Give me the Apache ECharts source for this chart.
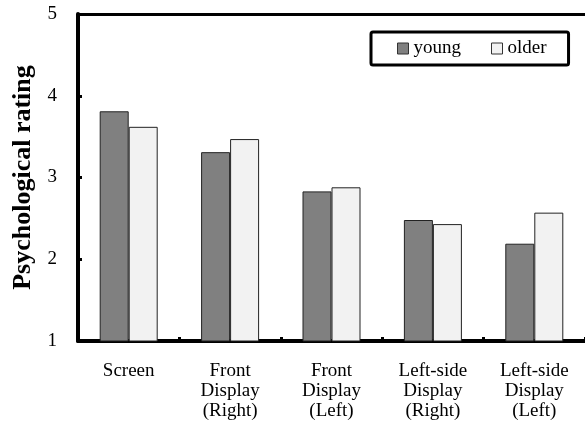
<!DOCTYPE html>
<html>
<head>
<meta charset="utf-8">
<script src="https://cdn.jsdelivr.net/npm/echarts@6/dist/echarts.min.js"></script>
<style>html,body{margin:0;padding:0;background:#fff;}#c{width:585px;height:428px;}</style>
</head>
<body>
<div id="c"></div>
<script>
const categories = ['Screen', 'Front\nDisplay\n(Right)', 'Front\nDisplay\n(Left)', 'Left-side\nDisplay\n(Right)', 'Left-side\nDisplay\n(Left)'];
const young = [3.81, 3.31, 2.83, 2.48, 2.19];
const older = [3.62, 3.47, 2.88, 2.43, 2.57];
const yTicks = [1, 2, 3, 4, 5];

const font = 'Liberation Serif, Times New Roman, serif';
const chart = echarts.init(document.getElementById('c'));
chart.setOption({
  animation: false,
  backgroundColor: '#fff',
  textStyle: { fontFamily: font },
  grid: { left: 78, top: 14, width: 508, height: 327, show: false },
  legend: {
    left: 371, top: 32,
    orient: 'horizontal',
    icon: 'rect',
    borderColor: '#000', borderWidth: 3, borderRadius: 2,
    padding: [7, 22, 7, 26],
    itemWidth: 11, itemHeight: 11, itemGap: 30,
    textStyle: { fontFamily: font, fontSize: 19, color: '#000', padding: [0, 0, 0, 0] },
    data: [
      { name: 'young', itemStyle: { color: '#808080', borderColor: '#333', borderWidth: 1 } },
      { name: 'older', itemStyle: { color: '#f2f2f2', borderColor: '#333', borderWidth: 1 } }
    ]
  },
  xAxis: [{
    type: 'category',
    data: categories,
    axisLine: { lineStyle: { color: '#000', width: 4 } },
    axisTick: { show: true, inside: true, length: 4, lineStyle: { color: '#000', width: 3 } },
    axisLabel: { fontFamily: font, fontSize: 19, color: '#000', margin: 20, lineHeight: 20 }
  }, {
    type: 'category',
    position: 'top',
    data: categories,
    axisLine: { show: true, lineStyle: { color: '#000', width: 3 } },
    axisTick: { show: false },
    axisLabel: { show: false }
  }],
  yAxis: {
    type: 'value',
    min: yTicks[0], max: yTicks[yTicks.length - 1], interval: 1,
    name: 'Psychological rating',
    nameLocation: 'middle',
    nameGap: 41,
    nameTextStyle: { fontFamily: font, fontSize: 26, fontWeight: 'bold', color: '#000' },
    axisLine: { show: true, lineStyle: { color: '#000', width: 4 } },
    axisTick: { show: true, inside: true, length: 4, lineStyle: { color: '#000', width: 3 } },
    axisLabel: { fontFamily: font, fontSize: 19, color: '#000', margin: 21 },
    splitLine: { show: false }
  },
  series: [
    { name: 'young', type: 'bar', data: young, barWidth: 29, barGap: '0%',
      itemStyle: { color: '#808080', borderColor: '#222', borderWidth: 1 } },
    { name: 'older', type: 'bar', data: older, barWidth: 29, barGap: '0%',
      itemStyle: { color: '#f2f2f2', borderColor: '#222', borderWidth: 1 } }
  ]
});
</script>
</body>
</html>
